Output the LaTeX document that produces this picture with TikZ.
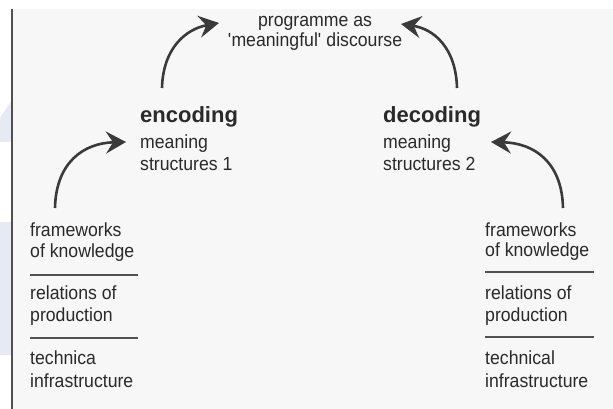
\documentclass[tikz,border=0pt]{standalone}
\usepackage{fontspec}
\setmainfont{Liberation Sans}[FakeStretch=0.93]
\newfontfamily\headfont{Liberation Sans}
\usetikzlibrary{arrows.meta}
\definecolor{bg}{HTML}{F7F7F7}
\definecolor{ink}{HTML}{2A2A2A}
\definecolor{arr}{HTML}{3A3A3A}
\definecolor{pale}{HTML}{E6EAF2}
\definecolor{rule}{HTML}{505050}
\begin{document}
\begin{tikzpicture}[x=1pt,y=-1pt,
  txt/.style={anchor=base west,inner sep=0pt,font=\fontsize{19}{21}\selectfont,text=ink},
  ctxt/.style={txt,anchor=base},
  head/.style={txt,font=\headfont\fontsize{22}{24}\bfseries\selectfont},
  arrowline/.style={draw=arr,line width=2.6pt,-{Stealth[length=20pt,width=22pt,inset=7pt]}},
  sep/.style={draw=rule,line width=2pt}]
\useasboundingbox (0,0) rectangle (613,409);
\fill[white] (0,0) rectangle (613,409);
\fill[bg] (12,9) rectangle (613,409);
\fill[pale] (0,118) -- (12,100) -- (12,142) -- (0,142) -- cycle;
\fill[pale] (0,222) rectangle (11,355);
\draw[draw=rule,line width=2pt] (12,9) -- (12,409);

% top text
\node[ctxt] (prog) at (315,27) {programme as};
\node[ctxt] (disc) at (315,47) {\textquotesingle meaningful\textquotesingle\ discourse};

% encoding
\node[head] (enc) at (140,123) {encoding};
\node[txt] (enc1) at (140,149) {meaning};
\node[txt] (enc2) at (140,171) {structures 1};

% decoding
\node[head] (dec) at (383,123) {decoding};
\node[txt] (dec1) at (383,149) {meaning};
\node[txt] (dec2) at (383,171) {structures 2};

% left stack
\node[txt] (l1) at (30,236) {frameworks};
\node[txt] (l2) at (30,257) {of knowledge};
\coordinate (ls1a) at (30,275); \coordinate (ls1b) at (138,275);
\node[txt] (l3) at (30,299) {relations of};
\node[txt] (l4) at (30,321) {production};
\coordinate (ls2a) at (30,338); \coordinate (ls2b) at (138,338);
\node[txt] (l5) at (30,364) {technica};
\node[txt] (l6) at (30,387) {infrastructure};
\draw[sep] (ls1a) -- (ls1b);
\draw[sep] (ls2a) -- (ls2b);

% right stack
\node[txt] (r1) at (485,236) {frameworks};
\node[txt] (r2) at (485,256) {of knowledge};
\coordinate (rs1a) at (485,272); \coordinate (rs1b) at (594,272);
\node[txt] (r3) at (485,299) {relations of};
\node[txt] (r4) at (485,321) {production};
\coordinate (rs2a) at (485,337); \coordinate (rs2b) at (594,337);
\node[txt] (r5) at (485,364) {technical};
\node[txt] (r6) at (485,387) {infrastructure};
\draw[sep] (rs1a) -- (rs1b);
\draw[sep] (rs2a) -- (rs2b);

% arrows
\coordinate (a1s) at (55,208);  \coordinate (a1e) at (126,142);
\coordinate (a2s) at (162,88);  \coordinate (a2e) at (219,23);
\coordinate (a3s) at (457,88);  \coordinate (a3e) at (401,24);
\coordinate (a4s) at (563,208); \coordinate (a4e) at (491,142);
\draw[arrowline] (a1s) .. controls (56,162) and (84,143) .. (a1e);
\draw[arrowline] (a2s) .. controls (163,48) and (186,29) .. (a2e);
\draw[arrowline] (a3s) .. controls (456,48) and (434,29) .. (a3e);
\draw[arrowline] (a4s) .. controls (562,162) and (534,143) .. (a4e);
\end{tikzpicture}
\end{document}
